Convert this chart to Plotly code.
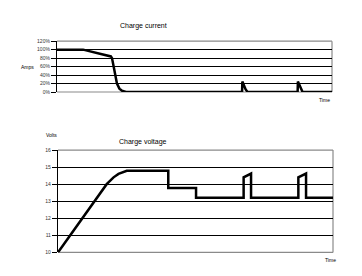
import plotly.graph_objects as go

W, H = 362, 276

# Charge current (% of max), time in arbitrary units 0-100
cur_t = [0, 9.5, 19.6, 20.0, 20.6, 21.1, 21.8, 22.7, 23.6, 25.1, 67.3, 67.4, 68.0, 68.6, 69.3, 87.5, 87.6, 88.2, 88.7, 89.3, 100]
cur_v = [100, 100, 84, 80, 60, 40, 20, 8, 3, 0, 0, 25, 15, 6, 0, 0, 25, 15, 6, 0, 0]
cur_ticks = [0, 20, 40, 60, 80, 100, 120]
cur_ticktext = ["0%", "20%", "40%", "60%", "80%", "100%", "120%"]
cur_grid = [20, 40, 60, 80, 100]

# Charge voltage (V)
volt_t = [0, 17.7, 20.2, 22.0, 25.0, 40.1, 40.1, 50.2, 50.2, 67.5, 67.5, 70.2, 70.2, 87.4, 87.4, 90.2, 90.2, 100]
volt_v = [10, 14.0, 14.4, 14.6, 14.78, 14.78, 13.78, 13.78, 13.21, 13.21, 14.4, 14.62, 13.21, 13.21, 14.4, 14.62, 13.21, 13.21]
volt_ticks = [10, 11, 12, 13, 14, 15, 16]
volt_grid = [11, 12, 13, 14, 15]


def px(x):
    return x / W


def py(y):
    return 1 - y / H


fig = go.Figure()
fig.add_trace(go.Scatter(x=cur_t, y=cur_v, mode="lines", line=dict(color="black", width=2.5),
                         xaxis="x", yaxis="y", showlegend=False))
fig.add_trace(go.Scatter(x=volt_t, y=volt_v, mode="lines", line=dict(color="black", width=2.5),
                         xaxis="x2", yaxis="y2", showlegend=False))

tickfont = dict(family="Liberation Sans, Arial", size=5, color="#333")
common_y = dict(showgrid=False, zeroline=False,
                showline=True, linecolor="black", linewidth=1.2, ticks="outside",
                ticklen=5, tickcolor="black", tickwidth=1, tickfont=tickfont)
common_x = dict(showgrid=False, zeroline=False, showline=False, showticklabels=False,
                ticks="", range=[0, 100])

fig.update_layout(
    width=W, height=H, margin=dict(l=0, r=0, t=0, b=0),
    paper_bgcolor="white", plot_bgcolor="white",
    xaxis=dict(domain=[px(57), px(332)], anchor="y", **common_x),
    yaxis=dict(domain=[py(91), py(39)], anchor="x", range=[0, 120],
               tickvals=cur_ticks, ticktext=cur_ticktext,
               minor=dict(tickvals=cur_grid, showgrid=True, gridcolor="black", gridwidth=1.3, ticks=""),
               **common_y),
    xaxis2=dict(domain=[px(58), px(333)], anchor="y2", **common_x),
    yaxis2=dict(domain=[py(255), py(150.3)], anchor="x2", range=[10, 16],
                tickvals=volt_ticks,
                minor=dict(tickvals=volt_grid, showgrid=True, gridcolor="black", gridwidth=1.3, ticks=""),
                **common_y),
)

# gray frame (top, right, bottom)
for xr, yr in (("x domain", "y domain"), ("x2 domain", "y2 domain")):
    for (x0, y0, x1, y1) in ((0, 1, 1, 1), (1, 0, 1, 1), (0, 0, 1, 0)):
        fig.add_shape(type="line", xref=xr, yref=yr, x0=x0, y0=y0, x1=x1, y1=y1,
                      line=dict(color="#8a8a8a", width=1.2), layer="below")

lab = dict(family="Liberation Sans, Arial", color="#000")
anns = [
    ("Charge current", 143.3, 23.5, 7),
    ("Amps", 27, 65.3, 5),
    ("Time", 324, 99, 5),
    ("Charge voltage", 142.5, 142, 7),
    ("Volts", 51, 134.5, 5),
    ("Time", 330, 263, 5),
]
for text, x, y, s in anns:
    fig.add_annotation(text=text, x=px(x), y=py(y), xref="paper", yref="paper",
                       showarrow=False, xanchor="center", yanchor="middle",
                       font=dict(size=s, **lab))

fig.write_html("out.html")
